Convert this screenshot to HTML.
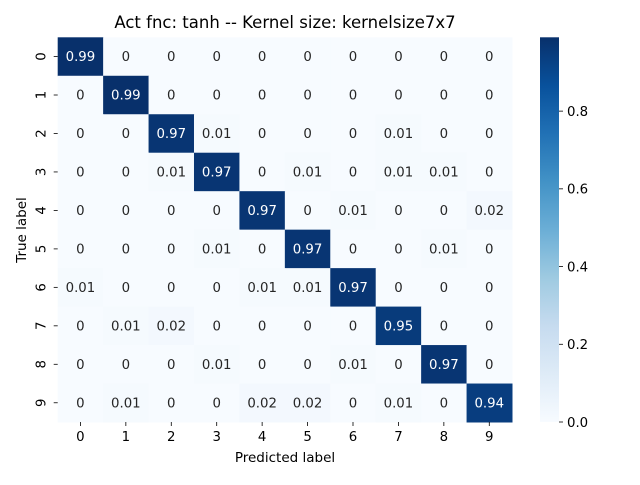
<!DOCTYPE html>
<html><head><meta charset="utf-8"><style>
body{margin:0;background:#fff}
svg text{font-family:"DejaVu Sans","Liberation Sans",sans-serif}
</style></head><body>
<svg id="chart" width="640" height="480" xmlns="http://www.w3.org/2000/svg">
<text x="285" y="28" font-size="16.5" text-anchor="middle" fill="#000">Act fnc: tanh -- Kernel size: kernelsize7x7</text>
<g id="cells"></g>
<g id="xt"></g>
<g id="yt"></g>
<text x="285" y="462" font-size="13.5" text-anchor="middle">Predicted label</text>
<text transform="translate(26,230) rotate(-90)" font-size="13.5" text-anchor="middle">True label</text>
<defs><linearGradient id="cbg" x1="0" y1="1" x2="0" y2="0"></linearGradient></defs>
<rect x="540" y="37.3" width="19" height="384.7" fill="url(#cbg)"/>
<g id="cbt"></g>
</svg>
<script>
const labels=["0","1","2","3","4","5","6","7","8","9"];
const row0=[0.99,0,0,0,0,0,0,0,0,0];
const row1=[0,0.99,0,0,0,0,0,0,0,0];
const row2=[0,0,0.97,0.01,0,0,0,0.01,0,0];
const row3=[0,0,0.01,0.97,0,0.01,0,0.01,0.01,0];
const row4=[0,0,0,0,0.97,0,0.01,0,0,0.02];
const row5=[0,0,0,0.01,0,0.97,0,0,0.01,0];
const row6=[0.01,0,0,0,0.01,0.01,0.97,0,0,0];
const row7=[0,0.01,0.02,0,0,0,0,0.95,0,0];
const row8=[0,0,0,0.01,0,0,0.01,0,0.97,0];
const row9=[0,0.01,0,0,0.02,0.02,0,0.01,0,0.94];
const cbTicks=[0,0.2,0.4,0.6,0.8];
const matrix=[row0,row1,row2,row3,row4,row5,row6,row7,row8,row9];
const NS="http://www.w3.org/2000/svg";
const X0=57.7,X1=512,Y0=37.3,Y1=422;
let vmin=Infinity,vmax=-Infinity;matrix.forEach(r=>r.forEach(v=>{vmin=Math.min(vmin,v);vmax=Math.max(vmax,v);}));
const cw=(X1-X0)/labels.length,ch=(Y1-Y0)/labels.length;
const xs=i=>X0+i*cw, ys=i=>Y0+i*ch;
const stops=[[247,251,255],[222,235,247],[198,219,239],[158,202,225],[107,174,214],[66,146,198],[33,113,181],[8,81,156],[8,48,107]];
function blues(t){t=Math.max(0,Math.min(1,t));const p=t*(stops.length-1),i=Math.min(Math.floor(p),stops.length-2),f=p-i;
const c=stops[i].map((a,k)=>Math.round(a+(stops[i+1][k]-a)*f));return `rgb(${c})`;}
function mk(tag,attrs,parent,txt){const e=document.createElementNS(NS,tag);for(const k in attrs)e.setAttribute(k,attrs[k]);if(txt!==undefined)e.textContent=txt;parent.appendChild(e);return e;}
const cells=document.getElementById('cells');
matrix.forEach((r,i)=>r.forEach((v,j)=>{const t=(v-vmin)/(vmax-vmin);
const rc=mk('rect',{x:xs(j),y:ys(i),width:cw+0.5,height:ch+0.5,fill:blues(t)},cells);


const tx=mk('text',{x:xs(j)+cw/2,y:ys(i)+ch/2+4.7,'font-size':13.3,'text-anchor':'middle',fill:t>0.5?'#fff':'#262626'},cells,String(v));


}));
const xt=document.getElementById('xt'),yt=document.getElementById('yt');
labels.forEach((l,i)=>{const cx=xs(i)+cw/2;
mk('line',{x1:cx,x2:cx,y1:Y1,y2:Y1+4,stroke:'#000','stroke-width':0.8},xt);
const a=mk('text',{x:cx,y:Y1+19,'font-size':13.3,'text-anchor':'middle'},xt,l);


const cy=ys(i)+ch/2;
mk('line',{x1:X0-4,x2:X0,y1:cy,y2:cy,stroke:'#000','stroke-width':0.8},yt);
const b=mk('text',{transform:`translate(${X0-12},${cy}) rotate(-90)`,'font-size':13.3,'text-anchor':'middle'},yt,l);


});
const g=document.getElementById('cbg');
for(let k=0;k<=8;k++)mk('stop',{offset:k/8,'stop-color':blues(k/8)},g);
const cbt=document.getElementById('cbt');
cbTicks.forEach(v=>{const y=Y1-(v-vmin)/(vmax-vmin)*(Y1-Y0);
mk('line',{x1:559,x2:563,y1:y,y2:y,stroke:'#000','stroke-width':0.8},cbt);
const t=mk('text',{x:567,y:y+4.8,'font-size':13.3},cbt,v.toFixed(1));


});
</script>
</body></html>
